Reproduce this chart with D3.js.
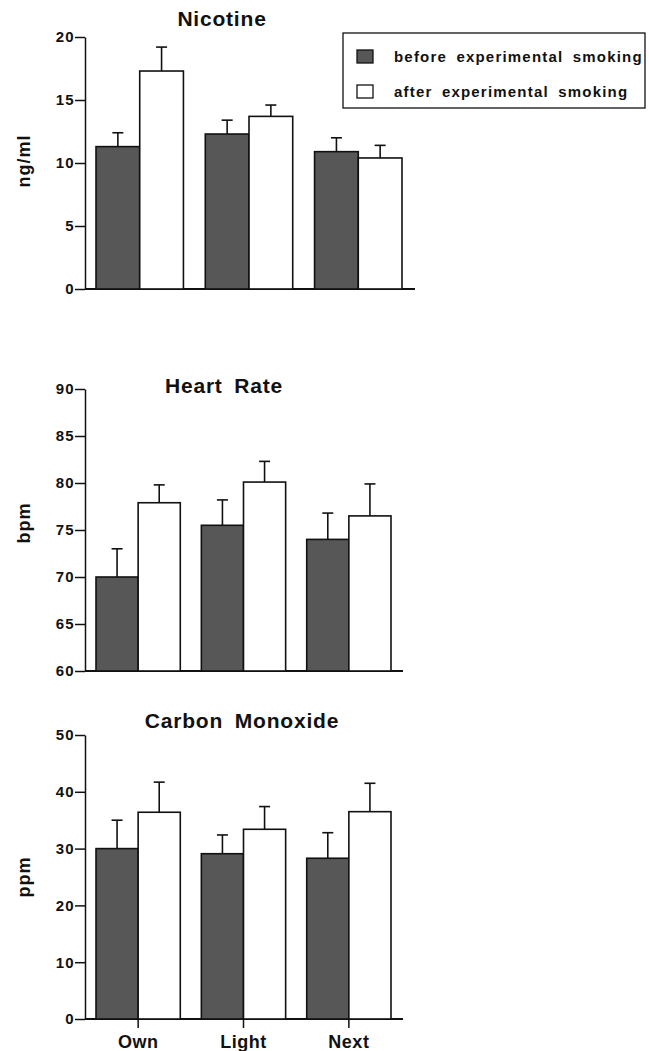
<!DOCTYPE html>
<html>
<head>
<meta charset="utf-8">
<script src="https://d3js.org/d3.v7.min.js"></script>
<style>
  body { margin: 0; background: #fff; }
  text { font-family: "Liberation Sans", Arial, sans-serif; font-weight: bold; fill: #111; }
  .tick text { font-size: 15px; letter-spacing: 1.3px; }
  .tick line, .domain { stroke: #111; stroke-width: 1.5px; }
  text.title { font-size: 21px; letter-spacing: 0.8px; word-spacing: 5px; }
  text.ylab { font-size: 18px; letter-spacing: 1px; }
  text.leg { font-size: 15px; letter-spacing: 1.2px; word-spacing: 4px; }
</style>
</head>
<body>
<div id="chart"></div>
<script>
// categories
const groups = ["Own", "Light", "Next"];
const seriesNames = ["before experimental smoking", "after experimental smoking"];

// Nicotine (ng/ml)
const nicotineBefore = [11.3, 12.3, 10.9];
const nicotineBeforeErr = [1.1, 1.1, 1.1];
const nicotineAfter = [17.3, 13.7, 10.4];
const nicotineAfterErr = [1.9, 0.9, 1.0];
const nicotineTicks = [0, 5, 10, 15, 20];

// Heart rate (bpm)
const heartBefore = [70.0, 75.5, 74.0];
const heartBeforeErr = [3.0, 2.7, 2.8];
const heartAfter = [77.9, 80.1, 76.5];
const heartAfterErr = [1.9, 2.2, 3.4];
const heartTicks = [60, 65, 70, 75, 80, 85, 90];

// Carbon monoxide (ppm)
const coBefore = [30.0, 29.1, 28.3];
const coBeforeErr = [5.0, 3.3, 4.5];
const coAfter = [36.4, 33.4, 36.5];
const coAfterErr = [5.3, 4.0, 5.0];
const coTicks = [0, 10, 20, 30, 40, 50];

const W = 649, H = 1051;
const svg = d3.select("#chart").append("svg")
  .attr("width", W).attr("height", H);

const colors = ["#575757", "#ffffff"];

const panels = [
  { title: "Nicotine", unit: "ng/ml", before: nicotineBefore, beforeErr: nicotineBeforeErr,
    after: nicotineAfter, afterErr: nicotineAfterErr, ticks: nicotineTicks,
    yRange: [289, 37], xRange: [96, 402], axisEnd: 415, titleX: 222, titleY: 26, unitY: 161, xLabels: false },
  { title: "Heart Rate", unit: "bpm", before: heartBefore, beforeErr: heartBeforeErr,
    after: heartAfter, afterErr: heartAfterErr, ticks: heartTicks,
    yRange: [671, 389], xRange: [96, 391], axisEnd: 403, titleX: 224, titleY: 393, unitY: 523, xLabels: false },
  { title: "Carbon Monoxide", unit: "ppm", before: coBefore, beforeErr: coBeforeErr,
    after: coAfter, afterErr: coAfterErr, ticks: coTicks,
    yRange: [1019, 735], xRange: [96, 391], axisEnd: 403, titleX: 242, titleY: 728, unitY: 877, xLabels: true }
];

const axisX = 85;

panels.forEach(function(p) {
  const g = svg.append("g");
  const y = d3.scaleLinear()
    .domain(d3.extent(p.ticks))
    .range(p.yRange);
  const x = d3.scaleBand()
    .domain(groups)
    .range(p.xRange)
    .paddingInner(0.2)
    .paddingOuter(0);
  const xs = d3.scaleBand()
    .domain([0, 1])
    .range([0, x.bandwidth()]);

  // y axis
  g.append("g")
    .attr("transform", `translate(${axisX},0)`)
    .call(d3.axisLeft(y).tickValues(p.ticks).tickSize(10).tickSizeOuter(0).tickPadding(0));

  // baseline
  g.append("line")
    .attr("x1", axisX).attr("x2", p.axisEnd)
    .attr("y1", y.range()[0]).attr("y2", y.range()[0])
    .attr("stroke", "#111").attr("stroke-width", 2);

  const rows = groups.map(function(k, i) {
    return [
      { group: k, s: 0, v: p.before[i], e: p.beforeErr[i] },
      { group: k, s: 1, v: p.after[i], e: p.afterErr[i] }
    ];
  }).flat();

  // error bars
  const eb = g.selectAll("g.err").data(rows).join("g").attr("class", "err");
  eb.append("line")
    .attr("x1", d => x(d.group) + xs(d.s) + xs.bandwidth() / 2)
    .attr("x2", d => x(d.group) + xs(d.s) + xs.bandwidth() / 2)
    .attr("y1", d => y(d.v))
    .attr("y2", d => y(d.v + d.e))
    .attr("stroke", "#111").attr("stroke-width", 1.6);
  eb.append("line")
    .attr("x1", d => x(d.group) + xs(d.s) + xs.bandwidth() / 2 - 5.5)
    .attr("x2", d => x(d.group) + xs(d.s) + xs.bandwidth() / 2 + 5.5)
    .attr("y1", d => y(d.v + d.e))
    .attr("y2", d => y(d.v + d.e))
    .attr("stroke", "#111").attr("stroke-width", 1.6);

  // bars
  g.selectAll("rect.bar").data(rows).join("rect")
    .attr("class", "bar")
    .attr("x", d => x(d.group) + xs(d.s))
    .attr("width", xs.bandwidth())
    .attr("y", d => y(d.v))
    .attr("height", d => y.range()[0] - y(d.v))
    .attr("fill", d => colors[d.s])
    .attr("stroke", "#111")
    .attr("stroke-width", 1.6);

  // title
  g.append("text").attr("class", "title")
    .attr("x", p.titleX).attr("y", p.titleY)
    .attr("text-anchor", "middle")
    .text(p.title);

  // unit label
  g.append("text").attr("class", "ylab")
    .attr("transform", `translate(30,${p.unitY}) rotate(-90)`)
    .attr("text-anchor", "middle")
    .text(p.unit);

  if (p.xLabels) {
    const xa = g.append("g")
      .attr("transform", `translate(0,${y.range()[0]})`)
      .call(d3.axisBottom(x).tickSize(9).tickSizeOuter(0).tickPadding(7));
    xa.select(".domain").remove();
    xa.selectAll(".tick text").style("font-size", "18px").style("letter-spacing", "0.5px");
  }
});

// legend
const legend = svg.append("g");
legend.append("rect")
  .attr("x", 343).attr("y", 33).attr("width", 302).attr("height", 75)
  .attr("fill", "none").attr("stroke", "#111").attr("stroke-width", 1.3);
seriesNames.forEach(function(name, i) {
  const yy = 50 + i * 35;
  legend.append("rect")
    .attr("x", 357).attr("y", yy).attr("width", 16).attr("height", 13)
    .attr("fill", colors[i]).attr("stroke", "#111").attr("stroke-width", 1.3);
  legend.append("text").attr("class", "leg")
    .attr("x", 394).attr("y", yy + 12)
    .text(name);
});
</script>
</body>
</html>
